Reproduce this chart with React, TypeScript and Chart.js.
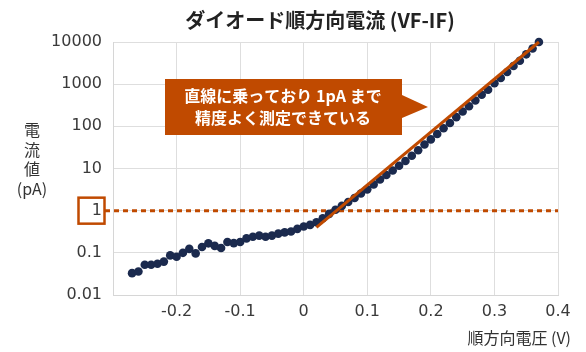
import React, { useEffect, useRef } from "react";
import { Chart, registerables } from "chart.js";

Chart.register(...registerables);

const voltages = [
  -0.27, -0.26, -0.25, -0.24, -0.23, -0.22, -0.21, -0.2, -0.19, -0.18,
  -0.17, -0.16, -0.15, -0.14, -0.13, -0.12, -0.11, -0.1, -0.09, -0.08,
  -0.07, -0.06, -0.05, -0.04, -0.03, -0.02, -0.01, 0.0, 0.01, 0.02,
  0.03, 0.04, 0.05, 0.06, 0.07, 0.08, 0.09, 0.1, 0.11, 0.12,
  0.13, 0.14, 0.15, 0.16, 0.17, 0.18, 0.19, 0.2, 0.21, 0.22,
  0.23, 0.24, 0.25, 0.26, 0.27, 0.28, 0.29, 0.3, 0.31, 0.32,
  0.33, 0.34, 0.35, 0.36, 0.37,
];

const currents = [
  0.033, 0.036, 0.052, 0.052, 0.055, 0.062, 0.087, 0.081, 0.1, 0.124,
  0.097, 0.138, 0.168, 0.146, 0.13, 0.18, 0.17, 0.18, 0.22, 0.24,
  0.256, 0.24, 0.256, 0.285, 0.306, 0.32, 0.37, 0.42, 0.46, 0.53,
  0.66, 0.84, 1.05, 1.3, 1.6, 2.0, 2.55, 3.2, 4.2, 5.5,
  7.0, 9.0, 11.6, 15, 20, 27, 37, 49, 66, 90,
  120, 165, 225, 300, 410, 560, 740, 1050, 1400, 1950,
  2700, 3600, 5100, 7000, 10000,
];

const fitVoltages = [0.02, 0.37];
const fitCurrents = [0.4, 10000];

const yTickValues = [0.01, 0.1, 1, 10, 100, 1000, 10000];
const yTickLabels = ["0.01", "0.1", "1", "10", "100", "1000", "10000"];
const xMin = -0.3;
const xMax = 0.4;
const referenceCurrent = 1;

const titleText = "ダイオード順方向電流 (VF-IF)";
const yTitleLines = ["電", "流", "値", "(pA)"];
const xTitleText = "順方向電圧 (V)";
const calloutLines = ["直線に乗っており 1pA まで", "精度よく測定できている"];

const ORANGE = "#C04A00";
const NAVY = "#1B2A4E";
const FONT = "'Noto Sans CJK JP', 'Noto Sans', sans-serif";
const NUM_FONT = "'DejaVu Sans', 'Noto Sans', sans-serif";

const overlayPlugin = {
  id: "overlay",
  beforeDatasetsDraw(chart: any) {
    const ctx = chart.ctx;
    const y = chart.scales.y.getPixelForValue(referenceCurrent);
    const area = chart.chartArea;
    ctx.save();
    ctx.strokeStyle = ORANGE;
    ctx.lineWidth = 2.5;
    ctx.strokeRect(78.5, y - 13, 26, 26);
    ctx.beginPath();
    ctx.setLineDash([5, 4]);
    ctx.lineWidth = 3;
    ctx.moveTo(105, y);
    ctx.lineTo(area.right, y);
    ctx.stroke();
    ctx.restore();
  },
  afterDraw(chart: any) {
    const ctx = chart.ctx;
    ctx.save();
    ctx.fillStyle = "#222";
    ctx.font = `bold 20px ${FONT}`;
    ctx.textAlign = "center";
    ctx.textBaseline = "middle";
    ctx.fillText(titleText, 320, 20);
    ctx.font = `16px ${FONT}`;
    ctx.fillStyle = "#333";
    yTitleLines.forEach((t, i) => {
      ctx.fillText(t, 32, 130 + i * 19.5);
    });
    ctx.textAlign = "right";
    ctx.fillText(xTitleText, 571, 338);
    ctx.fillStyle = ORANGE;
    ctx.beginPath();
    ctx.moveTo(165, 79);
    ctx.lineTo(402, 79);
    ctx.lineTo(402, 95);
    ctx.lineTo(428, 107);
    ctx.lineTo(402, 118);
    ctx.lineTo(402, 135);
    ctx.lineTo(165, 135);
    ctx.closePath();
    ctx.fill();
    ctx.fillStyle = "#fff";
    ctx.font = `bold 16px ${FONT}`;
    ctx.textAlign = "center";
    ctx.fillText(calloutLines[0], 283, 96);
    ctx.fillText(calloutLines[1], 283, 118);
    ctx.restore();
  },
};

export default function App() {
  const ref = useRef<HTMLCanvasElement | null>(null);
  useEffect(() => {
    if (!ref.current) return;
    const measured = voltages.map((v, i) => ({ x: v, y: currents[i] }));
    const fit = fitVoltages.map((v, i) => ({ x: v, y: fitCurrents[i] }));
    const chart = new Chart(ref.current, {
      type: "scatter",
      data: {
        datasets: [
          {
            data: fit,
            showLine: true,
            borderColor: ORANGE,
            borderWidth: 3,
            pointRadius: 0,
            order: 0,
            clip: false,
          },
          {
            data: measured,
            backgroundColor: NAVY,
            borderColor: NAVY,
            borderWidth: 0,
            pointRadius: 4.3,
            order: 1,
            clip: false,
          },
        ],
      },
      options: {
        animation: false,
        responsive: false,
        layout: { padding: { top: 42, right: 28, left: 0, bottom: 0 } },
        plugins: {
          legend: { display: false },
          tooltip: { enabled: false },
          title: { display: false },
        },
        scales: {
          x: {
            type: "linear",
            min: xMin,
            max: xMax,
            ticks: {
              stepSize: 0.1,
              padding: 7,
              color: "#3a3a3a",
              font: { size: 16, family: NUM_FONT },
              callback: (v: any) => {
                const r = Math.round(Number(v) * 10) / 10;
                if (Math.abs(r - xMin) < 1e-6) return "";
                return r === 0 ? "0" : String(r);
              },
            },
            grid: { color: "#dedede", drawTicks: false },
            border: { color: "#d6d6d6" },
            afterFit: (s: any) => {
              s.height = 57;
            },
          },
          y: {
            type: "logarithmic",
            min: 0.01,
            max: 10000,
            afterBuildTicks: (s: any) => {
              s.ticks = yTickValues.map((v) => ({ value: v }));
            },
            ticks: {
              padding: 11,
              color: "#3a3a3a",
              font: { size: 16, family: NUM_FONT },
              callback: (v: any) => {
                const idx = yTickValues.findIndex((t) => Math.abs(t - Number(v)) / t < 1e-6);
                return idx >= 0 ? yTickLabels[idx] : "";
              },
            },
            grid: { color: "#dedede", drawTicks: false },
            border: { color: "#d6d6d6" },
            afterFit: (s: any) => {
              s.width = 113;
            },
          },
        },
      },
      plugins: [overlayPlugin],
    } as any);
    return () => chart.destroy();
  }, []);
  return (
    <div style={{ position: "absolute", left: 0, top: 0, width: 586, height: 352, background: "#fff" }}>
      <canvas ref={ref} width={586} height={352} style={{ display: "block" }} />
    </div>
  );
}
